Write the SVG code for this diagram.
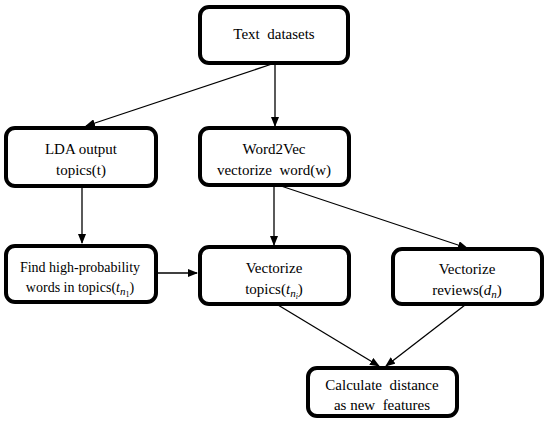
<svg xmlns="http://www.w3.org/2000/svg" width="550" height="432" viewBox="0 0 550 432">
<defs>
<marker id="ah" markerWidth="10" markerHeight="8" refX="9" refY="4" orient="auto" markerUnits="userSpaceOnUse">
<path d="M0,0 L10,4 L0,8 Z" fill="#000"/>
</marker>
<style>
.box{fill:#fff;stroke:#000;stroke-width:4}
.t{font-size:15px;fill:#000;text-anchor:middle;white-space:pre}
.s{font-size:14px}
.m{font-style:italic}
.c{stroke:#000;stroke-width:1.3;fill:none;marker-end:url(#ah)}
</style>
</defs>
<rect width="550" height="432" fill="#fff"/>
<g id="connectors">
<line class="c" x1="272" y1="64" x2="86" y2="126"/>
<line class="c" x1="275" y1="64" x2="275" y2="126"/>
<line class="c" x1="82" y1="187" x2="82" y2="243"/>
<line class="c" x1="157" y1="273" x2="197" y2="273"/>
<line class="c" x1="274" y1="186" x2="274" y2="245"/>
<line class="c" x1="278" y1="185" x2="467" y2="248"/>
<line class="c" x1="278" y1="305" x2="379" y2="366"/>
<line class="c" x1="465" y1="305" x2="386" y2="366"/>
</g>
<g font-family="'Liberation Serif', 'Times New Roman', 'DejaVu Serif', serif">
<g id="n-text">
<rect class="box" x="200" y="7" width="148" height="56" rx="9"/>
<text class="t" x="274" y="39">Text  datasets</text>
</g>
<g id="n-lda">
<rect class="box" x="6" y="128" width="150" height="58" rx="9"/>
<text class="t" x="81" y="154">LDA output</text>
<text class="t" x="81" y="175">topics(t)</text>
</g>
<g id="n-w2v">
<rect class="box" x="200" y="128" width="149" height="57" rx="9"/>
<text class="t" x="274" y="154">Word2Vec</text>
<text class="t" x="274" y="175">vectorize  word(w)</text>
</g>
<g id="n-find">
<rect class="box" x="6" y="246" width="150" height="56" rx="9"/>
<text class="t s" x="80" y="272">Find high-probability</text>
<text class="t s" x="80" y="292">words in topics(<tspan class="m">t</tspan><tspan class="m" font-size="11" dy="3">n</tspan><tspan font-size="8" dy="2">1</tspan><tspan dy="-5">)</tspan></text>
</g>
<g id="n-vtopics">
<rect class="box" x="200" y="247" width="149" height="57" rx="9"/>
<text class="t" x="274" y="273">Vectorize</text>
<text class="t" x="274" y="294">topics(<tspan class="m">t</tspan><tspan class="m" font-size="11" dy="3">n</tspan><tspan class="m" font-size="8" dy="2">i</tspan><tspan dy="-5">)</tspan></text>
</g>
<g id="n-vreviews">
<rect class="box" x="393" y="249" width="149" height="55" rx="9"/>
<text class="t" x="467" y="274">Vectorize</text>
<text class="t" x="467" y="295">reviews(<tspan class="m">d</tspan><tspan class="m" font-size="11" dy="3">n</tspan><tspan dy="-3">)</tspan></text>
</g>
<g id="n-calc">
<rect class="box" x="308" y="368" width="149" height="48" rx="9"/>
<text class="t" x="382" y="390">Calculate  distance</text>
<text class="t" x="382" y="410">as new  features</text>
</g>
</g>
</svg>
